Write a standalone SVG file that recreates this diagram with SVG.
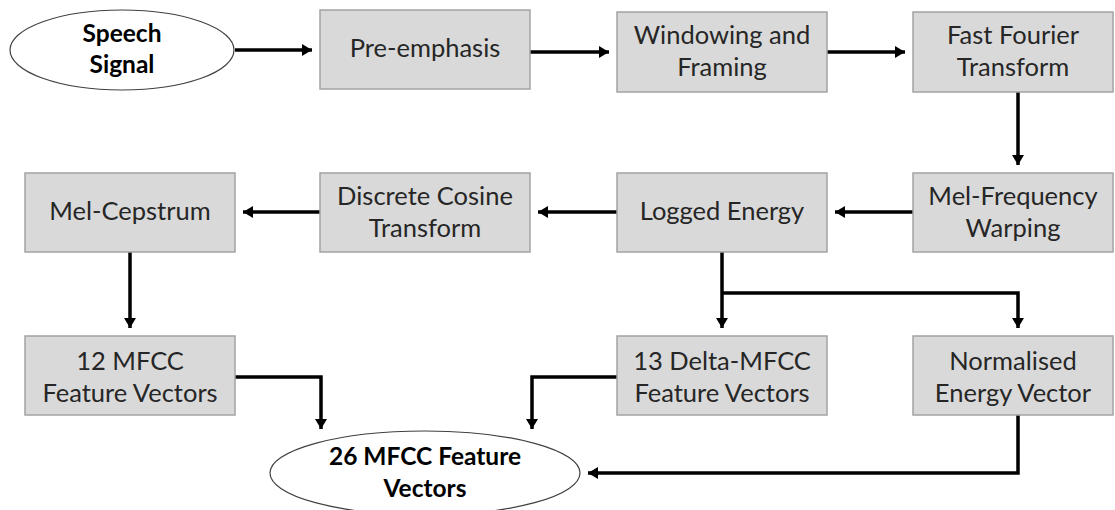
<svg xmlns="http://www.w3.org/2000/svg" width="1115" height="510" viewBox="0 0 1115 510">
  <defs>
    <marker id="arrow" markerUnits="userSpaceOnUse" markerWidth="12" markerHeight="13" refX="10" refY="6" orient="auto">
      <path d="M0,0 L10,6 L0,12 Z" fill="#000"/>
    </marker>
    <style>
      .box { fill: #d9d9d9; stroke: #a3a3a3; stroke-width: 1.5; }
      .oval { fill: #fff; stroke: #404040; stroke-width: 1.2; }
      .lbl { font-family: Lato, "Liberation Sans", sans-serif; font-size: 25.5px; fill: #262626; text-anchor: middle; }
      .bold { font-family: Lato, "Liberation Sans", sans-serif; font-size: 24.5px; font-weight: bold; fill: #000; text-anchor: middle; }
      .wire { fill: none; stroke: #000; stroke-width: 3.5; }
      .arr { marker-end: url(#arrow); }
    </style>
  </defs>

  <rect width="1115" height="510" fill="#fff"/>

  <!-- connectors -->
  <g id="connectors">
    <path class="wire arr" d="M235,50 H312"/>
    <path class="wire arr" d="M530,52 H609"/>
    <path class="wire arr" d="M827,52 H905"/>
    <path class="wire arr" d="M1018,92 V165"/>
    <path class="wire arr" d="M913,212 H835"/>
    <path class="wire arr" d="M617,212 H538"/>
    <path class="wire arr" d="M320,212 H243"/>
    <path class="wire arr" d="M130,252 V328"/>
    <path class="wire arr" d="M722,252 V328"/>
    <path class="wire arr" d="M722,293 H1018 V328"/>
    <path class="wire arr" d="M235,377 H321 V429"/>
    <path class="wire arr" d="M617,377 H532 V429"/>
    <path class="wire arr" d="M1018,415 V473 H588"/>
  </g>

  <!-- nodes -->
  <g id="speech-signal">
    <ellipse class="oval" cx="122" cy="50" rx="112" ry="40"/>
    <text class="bold" x="122" y="42">Speech</text>
    <text class="bold" x="122" y="73">Signal</text>
  </g>
  <g id="pre-emphasis">
    <rect class="box" x="320" y="10" width="210" height="79"/>
    <text class="lbl" x="425" y="57">Pre-emphasis</text>
  </g>
  <g id="windowing">
    <rect class="box" x="617" y="12" width="210" height="80"/>
    <text class="lbl" x="722" y="44">Windowing and</text>
    <text class="lbl" x="722" y="76">Framing</text>
  </g>
  <g id="fft">
    <rect class="box" x="913" y="12" width="200" height="80"/>
    <text class="lbl" x="1013" y="44">Fast Fourier</text>
    <text class="lbl" x="1013" y="76">Transform</text>
  </g>
  <g id="mel-frequency">
    <rect class="box" x="913" y="173" width="200" height="79"/>
    <text class="lbl" x="1013" y="205">Mel-Frequency</text>
    <text class="lbl" x="1013" y="237">Warping</text>
  </g>
  <g id="logged-energy">
    <rect class="box" x="617" y="173" width="210" height="79"/>
    <text class="lbl" x="722" y="220">Logged Energy</text>
  </g>
  <g id="dct">
    <rect class="box" x="320" y="173" width="210" height="79"/>
    <text class="lbl" x="425" y="205">Discrete Cosine</text>
    <text class="lbl" x="425" y="237">Transform</text>
  </g>
  <g id="mel-cepstrum">
    <rect class="box" x="25" y="173" width="210" height="79"/>
    <text class="lbl" x="130" y="220">Mel-Cepstrum</text>
  </g>
  <g id="mfcc-12">
    <rect class="box" x="25" y="336" width="210" height="79"/>
    <text class="lbl" x="130" y="370">12 MFCC</text>
    <text class="lbl" x="130" y="402">Feature Vectors</text>
  </g>
  <g id="delta-mfcc-13">
    <rect class="box" x="617" y="336" width="210" height="79"/>
    <text class="lbl" x="722" y="370">13 Delta-MFCC</text>
    <text class="lbl" x="722" y="402">Feature Vectors</text>
  </g>
  <g id="normalised-energy">
    <rect class="box" x="913" y="336" width="200" height="79"/>
    <text class="lbl" x="1013" y="370">Normalised</text>
    <text class="lbl" x="1013" y="402">Energy Vector</text>
  </g>
  <g id="mfcc-26">
    <ellipse class="oval" cx="425" cy="473" rx="155" ry="42"/>
    <text class="bold" x="425" y="465">26 MFCC Feature</text>
    <text class="bold" x="425" y="497">Vectors</text>
  </g>
</svg>
